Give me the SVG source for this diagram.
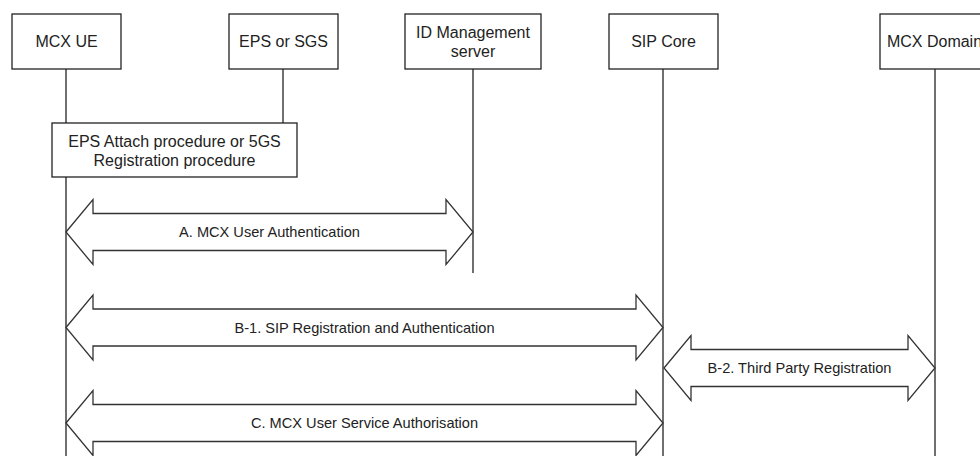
<svg xmlns="http://www.w3.org/2000/svg" width="980" height="456" viewBox="0 0 980 456">
  <style>
    .box { fill: #ffffff; stroke: #222222; stroke-width: 1.3; }
    .life { stroke: #222222; stroke-width: 1.3; fill: none; }
    .arrow { fill: #ffffff; stroke: #333333; stroke-width: 1.3; stroke-linejoin: miter; }
    .lbl { font-family: "Liberation Sans", Arial, sans-serif; font-size: 16px; fill: #222222; text-anchor: middle; }
    .albl { font-family: "Liberation Sans", Arial, sans-serif; font-size: 14.6px; fill: #222222; text-anchor: middle; }
  </style>
  <rect width="980" height="456" fill="#ffffff"/>

  <!-- lifelines -->
  <g id="lifelines">
    <line class="life" x1="66" y1="69" x2="66" y2="456"/>
    <line class="life" x1="283" y1="69" x2="283" y2="123"/>
    <line class="life" x1="473" y1="69" x2="473" y2="273"/>
    <line class="life" x1="663" y1="69" x2="663" y2="456"/>
    <line class="life" x1="935" y1="69" x2="935" y2="456"/>
  </g>

  <!-- participants -->
  <g id="mcx-ue">
    <rect class="box" x="12" y="14" width="109" height="55"/>
    <text class="lbl" x="66.5" y="47">MCX UE</text>
  </g>
  <g id="eps-sgs">
    <rect class="box" x="229" y="14" width="109" height="55"/>
    <text class="lbl" x="283.5" y="47">EPS or SGS</text>
  </g>
  <g id="id-mgmt">
    <rect class="box" x="405" y="14" width="136" height="55"/>
    <text class="lbl" x="473" y="37.5">ID Management</text>
    <text class="lbl" x="473" y="56.5">server</text>
  </g>
  <g id="sip-core">
    <rect class="box" x="609" y="14" width="109" height="55"/>
    <text class="lbl" x="663.5" y="47">SIP Core</text>
  </g>
  <g id="mcx-domain">
    <rect class="box" x="880" y="14" width="109" height="55"/>
    <text class="lbl" x="934.5" y="47">MCX Domain</text>
  </g>

  <!-- attach / registration procedure -->
  <g id="attach-proc">
    <rect class="box" x="52" y="123" width="245" height="54"/>
    <text class="lbl" x="174.5" y="146.5">EPS Attach procedure or 5GS</text>
    <text class="lbl" x="174.5" y="166">Registration procedure</text>
  </g>

  <!-- double-headed block arrows -->
  <g id="connectors">
    <polygon class="arrow" points="66,232 93,199.5 93,213.5 446,213.5 446,199.5 473,232 446,264.5 446,250.5 93,250.5 93,264.5"/>
    <text class="albl" x="269.5" y="237">A. MCX User Authentication</text>

    <polygon class="arrow" points="66,327.5 93,295 93,309 636,309 636,295 663,327.5 636,360 636,346 93,346 93,360"/>
    <text class="albl" x="364.5" y="332.5">B-1. SIP Registration and Authentication</text>

    <polygon class="arrow" points="664,368 691,335.5 691,349.5 908,349.5 908,335.5 935,368 908,400.5 908,386.5 691,386.5 691,400.5"/>
    <text class="albl" x="799.5" y="373">B-2. Third Party Registration</text>

    <polygon class="arrow" points="66,423 93,390.5 93,404.5 636,404.5 636,390.5 663,423 636,455.5 636,441.5 93,441.5 93,455.5"/>
    <text class="albl" x="364.5" y="428">C. MCX User Service Authorisation</text>
  </g>
</svg>
